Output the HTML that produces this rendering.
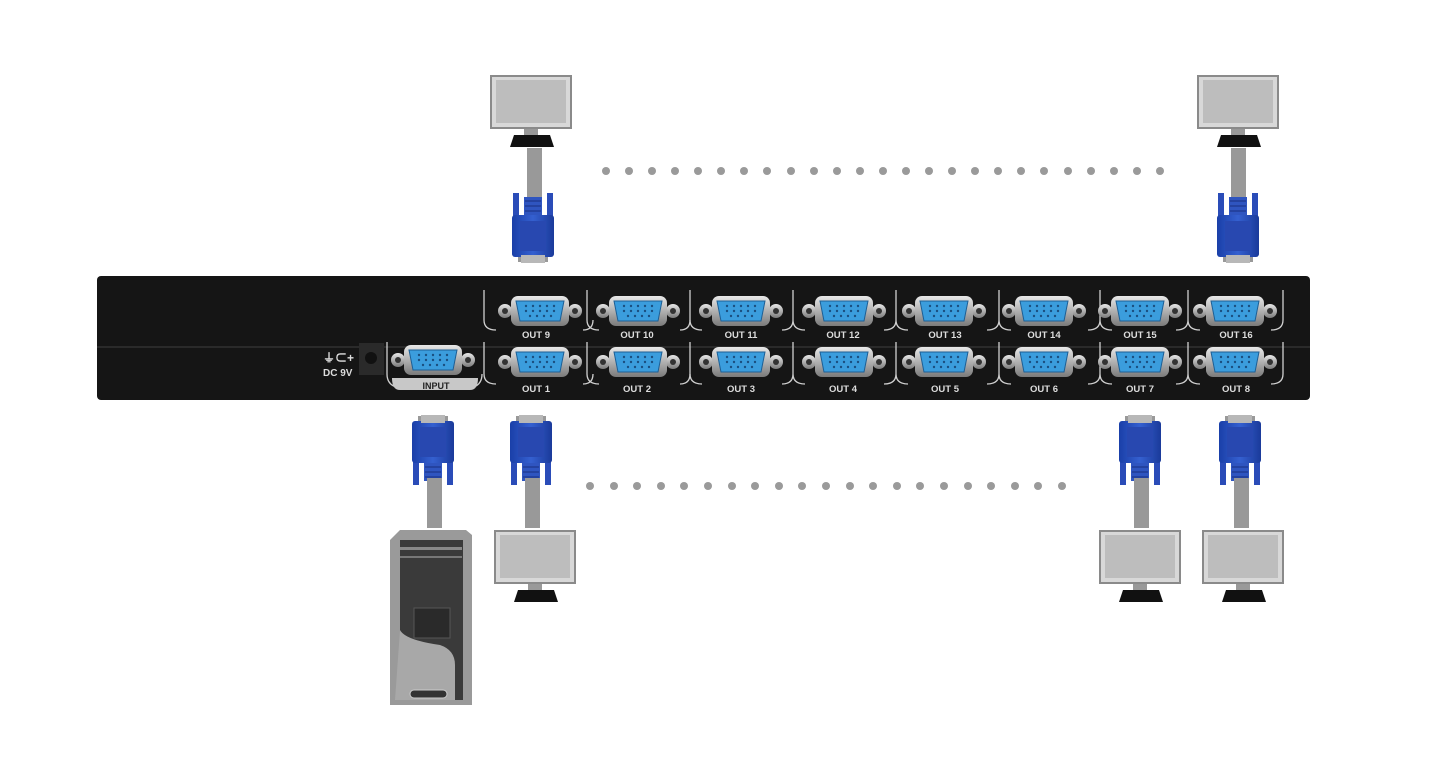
<!DOCTYPE html>
<html><head><meta charset="utf-8"><style>
html,body{margin:0;padding:0;background:#fff;width:1450px;height:769px;overflow:hidden}
svg{display:block}
text{font-family:"Liberation Sans",Arial,sans-serif;font-weight:bold}
</style></head><body>
<svg width="1450" height="769" viewBox="0 0 1450 769" xmlns="http://www.w3.org/2000/svg">
<defs>
<linearGradient id="sil" x1="0" y1="0" x2="0" y2="1"><stop offset="0" stop-color="#e8e8e8"/><stop offset="1" stop-color="#7a7a7a"/></linearGradient>
<linearGradient id="blu" x1="0" y1="0" x2="1" y2="0"><stop offset="0" stop-color="#1a3fa8"/><stop offset="0.5" stop-color="#3560d0"/><stop offset="1" stop-color="#1a3a9a"/></linearGradient>
<g id="mon">
<rect x="0" y="0" width="82" height="54" fill="#8a8a8a"/>
<rect x="2" y="2" width="78" height="50" fill="#d8d8d8"/>
<rect x="6" y="5" width="70" height="43" fill="#bdbdbd"/>
<rect x="34" y="54" width="14" height="6" fill="#999"/>
<path d="M24 60 H60 L64 72 H20 Z" fill="#111"/>
</g>
<g id="vga">
<rect x="-9" y="0" width="18" height="18" fill="#2f55c0"/>
<rect x="-20" y="-4" width="6" height="26" fill="#2a4cb8"/>
<rect x="14" y="-4" width="6" height="26" fill="#2a4cb8"/>
<rect x="-21" y="18" width="42" height="42" rx="3" fill="url(#blu)"/>
<rect x="-13" y="24" width="26" height="30" fill="#2848b0"/>
<line x1="-8" y1="4" x2="8" y2="4" stroke="#1a2f80"/><line x1="-8" y1="9" x2="8" y2="9" stroke="#1a2f80"/><line x1="-8" y1="14" x2="8" y2="14" stroke="#1a2f80"/>
<rect x="-12" y="58" width="24" height="8" fill="#b8b8b8"/>
<rect x="-15" y="60" width="3" height="5" fill="#999"/><rect x="12" y="60" width="3" height="5" fill="#999"/>
</g>
<g id="port">
<circle cx="-35" cy="0" r="7" fill="url(#sil)"/><circle cx="-35" cy="0" r="3" fill="#333"/>
<circle cx="35" cy="0" r="7" fill="url(#sil)"/><circle cx="35" cy="0" r="3" fill="#333"/>
<rect x="-29" y="-15" width="58" height="30" rx="7" fill="url(#sil)"/>
<path d="M-24 -10 H24 L20 10 H-20 Z" fill="#3b9ddd" stroke="#1d5f95"/>
<g fill="#1b4f80"><circle cx="-14" cy="-5" r="1.2"/><circle cx="-7" cy="-5" r="1.2"/><circle cx="0" cy="-5" r="1.2"/><circle cx="7" cy="-5" r="1.2"/><circle cx="14" cy="-5" r="1.2"/>
<circle cx="-14" cy="0" r="1.2"/><circle cx="-7" cy="0" r="1.2"/><circle cx="0" cy="0" r="1.2"/><circle cx="7" cy="0" r="1.2"/><circle cx="14" cy="0" r="1.2"/>
<circle cx="-10" cy="5" r="1.2"/><circle cx="-3" cy="5" r="1.2"/><circle cx="4" cy="5" r="1.2"/><circle cx="11" cy="5" r="1.2"/></g>
</g>
</defs>

<!-- top monitors & cables -->
<use href="#mon" x="490" y="75"/>
<rect x="527" y="148" width="15" height="55" fill="#999"/>
<g transform="translate(533,197)"><use href="#vga"/></g>
<use href="#mon" x="1197" y="75"/>
<rect x="1231" y="148" width="15" height="55" fill="#999"/>
<g transform="translate(1238,197)"><use href="#vga"/></g>

<!-- device -->
<rect x="97" y="276" width="1213" height="124" rx="4" fill="#151515"/>
<rect x="97" y="346" width="1213" height="2" fill="#2a2a2a"/>
<g stroke="#d0d0d0" stroke-width="1.3" fill="none">
<path d="M484 290 V320 Q484 330 496 330 M583 330 Q593 330 593 320"/>
<path d="M484 342 V374 Q484 384 496 384 M583 384 Q593 384 593 374"/>
<path d="M587 290 V320 Q587 330 599 330 M680 330 Q690 330 690 320 M690 290 V320"/>
<path d="M587 342 V374 Q587 384 599 384 M680 384 Q690 384 690 374 M690 342 V374"/>
<path d="M793 290 V320 M793 342 V374 M896 290 V320 M896 342 V374 M999 290 V320 M999 342 V374 M1100 290 V320 M1100 342 V374 M1188 290 V320 M1188 342 V374 M1283 290 V320 M1283 342 V374"/>
<path d="M690 320 Q690 330 702 330 M782 330 Q793 330 793 320 M793 320 Q793 330 805 330 M884 330 Q896 330 896 320 M896 320 Q896 330 908 330 M987 330 Q999 330 999 320 M999 320 Q999 330 1011 330 M1088 330 Q1100 330 1100 320 M1100 320 Q1100 330 1112 330 M1176 330 Q1188 330 1188 320 M1188 320 Q1188 330 1200 330 M1271 330 Q1283 330 1283 320"/>
<path d="M690 374 Q690 384 702 384 M782 384 Q793 384 793 374 M793 374 Q793 384 805 384 M884 384 Q896 384 896 374 M896 374 Q896 384 908 384 M987 384 Q999 384 999 374 M999 374 Q999 384 1011 384 M1088 384 Q1100 384 1100 374 M1100 374 Q1100 384 1112 384 M1176 384 Q1188 384 1188 374 M1188 374 Q1188 384 1200 384 M1271 384 Q1283 384 1283 374"/>
<path d="M387 342 V374 Q387 386 400 388 M470 388 Q482 386 482 374"/>
</g>
<path d="M392 378 H478 Q478 390 470 390 H400 Q392 390 392 378Z" fill="#c8c8c8"/>
<text x="436" y="389" font-size="9" fill="#222" text-anchor="middle">INPUT</text>
<g transform="translate(433,360)"><use href="#port"/></g>
<rect x="305" y="345" width="24" height="14" fill="none"/>
<rect x="359" y="343" width="25" height="32" fill="#2a2a2a"/><circle cx="371" cy="358" r="6" fill="#111"/>
<text x="323" y="362" font-size="12" fill="#ddd">⏚⊂+</text>
<text x="323" y="376" font-size="10" fill="#ddd">DC 9V</text>
<g font-size="9.5" fill="#ddd" text-anchor="middle">
<g transform="translate(540,311)"><use href="#port"/></g><text x="536" y="338">OUT 9</text>
<g transform="translate(638,311)"><use href="#port"/></g><text x="637" y="338">OUT 10</text>
<g transform="translate(741,311)"><use href="#port"/></g><text x="741" y="338">OUT 11</text>
<g transform="translate(844,311)"><use href="#port"/></g><text x="843" y="338">OUT 12</text>
<g transform="translate(944,311)"><use href="#port"/></g><text x="945" y="338">OUT 13</text>
<g transform="translate(1044,311)"><use href="#port"/></g><text x="1044" y="338">OUT 14</text>
<g transform="translate(1140,311)"><use href="#port"/></g><text x="1140" y="338">OUT 15</text>
<g transform="translate(1235,311)"><use href="#port"/></g><text x="1236" y="338">OUT 16</text>
<g transform="translate(540,362)"><use href="#port"/></g><text x="536" y="392">OUT 1</text>
<g transform="translate(638,362)"><use href="#port"/></g><text x="637" y="392">OUT 2</text>
<g transform="translate(741,362)"><use href="#port"/></g><text x="741" y="392">OUT 3</text>
<g transform="translate(844,362)"><use href="#port"/></g><text x="843" y="392">OUT 4</text>
<g transform="translate(944,362)"><use href="#port"/></g><text x="945" y="392">OUT 5</text>
<g transform="translate(1044,362)"><use href="#port"/></g><text x="1044" y="392">OUT 6</text>
<g transform="translate(1140,362)"><use href="#port"/></g><text x="1140" y="392">OUT 7</text>
<g transform="translate(1235,362)"><use href="#port"/></g><text x="1236" y="392">OUT 8</text>
</g>

<!-- bottom cables -->
<g transform="translate(433,481) scale(1,-1)"><use href="#vga"/></g>
<rect x="427" y="478" width="15" height="50" fill="#999"/>
<g transform="translate(531,481) scale(1,-1)"><use href="#vga"/></g>
<rect x="525" y="478" width="15" height="50" fill="#999"/>
<g transform="translate(1140,481) scale(1,-1)"><use href="#vga"/></g>
<rect x="1134" y="478" width="15" height="50" fill="#999"/>
<g transform="translate(1240,481) scale(1,-1)"><use href="#vga"/></g>
<rect x="1234" y="478" width="15" height="50" fill="#999"/>

<use href="#mon" x="494" y="530"/>
<use href="#mon" x="1099" y="530"/>
<use href="#mon" x="1202" y="530"/>

<!-- PC tower -->
<g>
<path d="M395 535 L400 530 H466 L472 535 V705 H390 V540Z" fill="#9a9a9a"/>
<rect x="400" y="540" width="63" height="160" fill="#3a3a3a"/>
<rect x="400" y="547" width="62" height="3" fill="#888"/><rect x="400" y="556" width="62" height="2" fill="#777"/>
<rect x="414" y="608" width="36" height="30" fill="#2a2a2a" stroke="#555"/>
<path d="M400 630 Q405 640 440 645 Q455 650 455 665 V700 H395 Z" fill="#a8a8a8"/>
<rect x="410" y="690" width="37" height="8" rx="4" fill="#333" stroke="#ccc"/>
</g>

<!-- dots -->
<g fill="#9a9a9a">
<circle cx="606" cy="171" r="4"/><circle cx="629" cy="171" r="4"/><circle cx="652" cy="171" r="4"/><circle cx="675" cy="171" r="4"/><circle cx="698" cy="171" r="4"/><circle cx="721" cy="171" r="4"/><circle cx="744" cy="171" r="4"/><circle cx="767" cy="171" r="4"/><circle cx="791" cy="171" r="4"/><circle cx="814" cy="171" r="4"/><circle cx="837" cy="171" r="4"/><circle cx="860" cy="171" r="4"/><circle cx="883" cy="171" r="4"/><circle cx="906" cy="171" r="4"/><circle cx="929" cy="171" r="4"/><circle cx="952" cy="171" r="4"/><circle cx="975" cy="171" r="4"/><circle cx="998" cy="171" r="4"/><circle cx="1021" cy="171" r="4"/><circle cx="1044" cy="171" r="4"/><circle cx="1068" cy="171" r="4"/><circle cx="1091" cy="171" r="4"/><circle cx="1114" cy="171" r="4"/><circle cx="1137" cy="171" r="4"/><circle cx="1160" cy="171" r="4"/>
<circle cx="590" cy="486" r="4"/><circle cx="614" cy="486" r="4"/><circle cx="637" cy="486" r="4"/><circle cx="661" cy="486" r="4"/><circle cx="684" cy="486" r="4"/><circle cx="708" cy="486" r="4"/><circle cx="732" cy="486" r="4"/><circle cx="755" cy="486" r="4"/><circle cx="779" cy="486" r="4"/><circle cx="802" cy="486" r="4"/><circle cx="826" cy="486" r="4"/><circle cx="850" cy="486" r="4"/><circle cx="873" cy="486" r="4"/><circle cx="897" cy="486" r="4"/><circle cx="920" cy="486" r="4"/><circle cx="944" cy="486" r="4"/><circle cx="968" cy="486" r="4"/><circle cx="991" cy="486" r="4"/><circle cx="1015" cy="486" r="4"/><circle cx="1038" cy="486" r="4"/><circle cx="1062" cy="486" r="4"/>
</g>
</svg>
</body></html>
